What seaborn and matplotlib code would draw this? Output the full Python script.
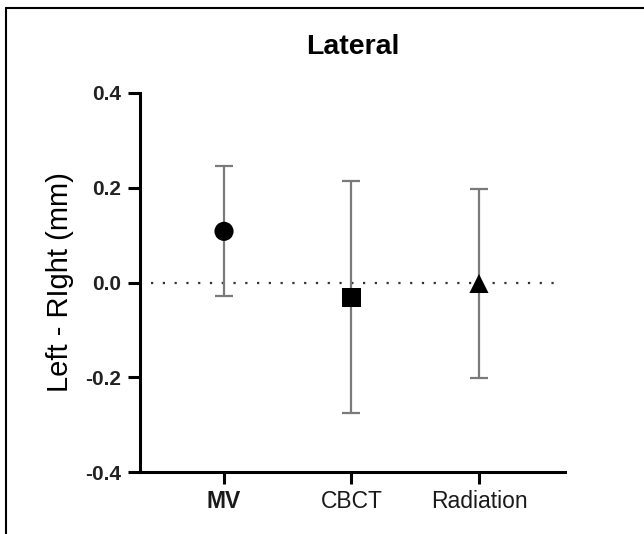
import matplotlib
matplotlib.use("Agg")
import matplotlib.pyplot as plt
import seaborn as sns
import pandas as pd
from matplotlib.lines import Line2D

# Data
categories = ["MV", "CBCT", "Radiation"]
means = [0.108, -0.031, -0.002]
sds = [0.137, 0.245, 0.200]
marker_shapes = ["o", "s", "^"]
yticks = [-0.4, -0.2, 0.0, 0.2, 0.4]
ytick_labels = ["-0.4", "-0.2", "0.0", "0.2", "0.4"]

df = pd.DataFrame({"method": categories, "mean": means, "sd": sds})

sns.set_theme(style="ticks")
plt.rcParams["font.family"] = ["Liberation Sans", "DejaVu Sans"]
plt.rcParams["text.color"] = "black"
plt.rcParams["axes.labelcolor"] = "black"
plt.rcParams["xtick.color"] = "black"
plt.rcParams["ytick.color"] = "black"

fig = plt.figure(figsize=(6.44, 5.34), dpi=100)
ax = fig.add_axes([140 / 644, 1 - 472 / 534, 425 / 644, (472 - 93) / 534])

# zero reference line
ax.axhline(0, xmin=11 / 425, xmax=420 / 425, color="#333333", lw=1.6,
           linestyle=(0, (1, 4.3)), zorder=1)

# error bars
ax.errorbar(df["method"], df["mean"], yerr=df["sd"], fmt="none",
            ecolor="#7a7a7a", elinewidth=1.6, capsize=6.8, capthick=1.6, zorder=2)

# points
sns.scatterplot(data=df, x="method", y="mean", style="method",
                markers=dict(zip(categories, marker_shapes)),
                color="black", s=190, edgecolor="black", linewidth=0,
                legend=False, ax=ax, zorder=3)

ax.set_xlim(-0.659, 2.675)
ax.set_ylim(-0.4, 0.4)
ax.set_yticks(yticks)
ax.set_yticklabels(ytick_labels)
ax.set_xlabel("")
ax.set_ylabel("Left - RIght (mm)", fontsize=21, labelpad=8, color="black")
ax.set_title("Lateral", fontsize=20.5, fontweight="bold", pad=28, color="black")

for side in ["top", "right"]:
    ax.spines[side].set_visible(False)
for side in ["left", "bottom"]:
    ax.spines[side].set_linewidth(2.2)
    ax.spines[side].set_color("black")
ax.tick_params(axis="both", length=8.6, width=2.2, color="black")
ax.tick_params(axis="y", labelsize=15, pad=5)
ax.tick_params(axis="x", labelsize=16.5, pad=4)
for lab in ax.get_yticklabels():
    lab.set_fontweight("bold")
    lab.set_color("#222222")
for lab in ax.get_xticklabels():
    if lab.get_text() == "MV":
        lab.set_fontweight("bold")
    lab.set_color("#1a1a1a")

# partial figure frame (left and top edges visible)
fig.add_artist(Line2D([6 / 644, 6 / 644], [0, 1 - 8 / 534], transform=fig.transFigure,
                      color="black", lw=1.5))
fig.add_artist(Line2D([6 / 644, 1], [1 - 8 / 534, 1 - 8 / 534], transform=fig.transFigure,
                      color="black", lw=1.5))

fig.savefig("out.png", dpi=100, facecolor="white")
